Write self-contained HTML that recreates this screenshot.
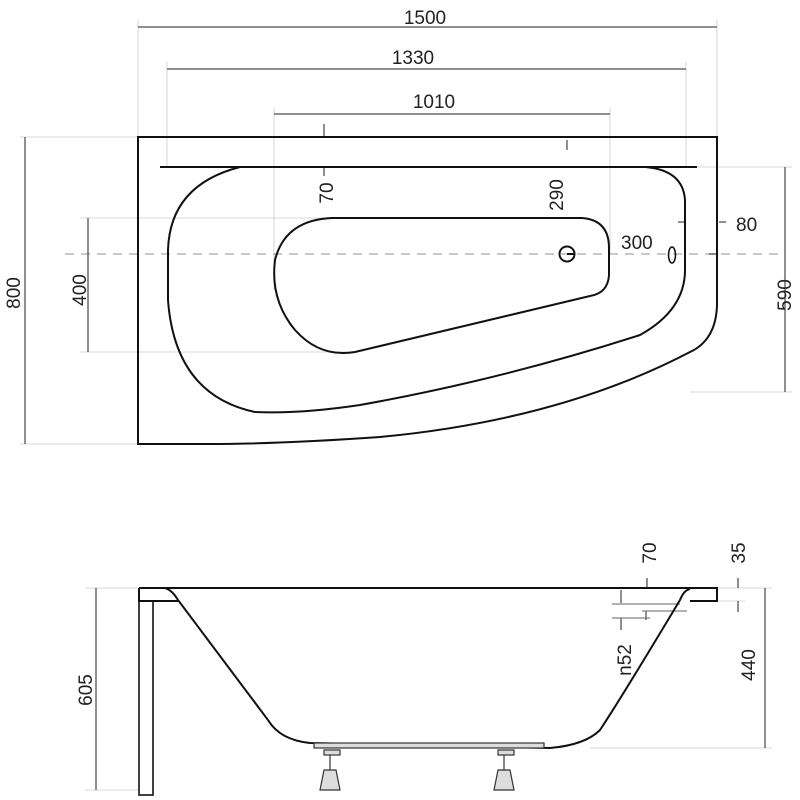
<!DOCTYPE html>
<html><head><style>body{margin:0;background:#fff}svg{display:block}text{font-family:"Liberation Sans",sans-serif;fill:#222}</style></head><body>
<svg width="800" height="800" viewBox="0 0 800 800" xmlns="http://www.w3.org/2000/svg">
<g stroke="#ccc" stroke-width="0.8" fill="none">
<line x1="138" y1="20" x2="138" y2="137"/><line x1="717" y1="20" x2="717" y2="137"/>
<line x1="167" y1="62" x2="167" y2="167"/><line x1="686" y1="62" x2="686" y2="167"/>
<line x1="274" y1="108" x2="274" y2="290"/><line x1="610" y1="108" x2="610" y2="254"/>
<line x1="20" y1="137" x2="138" y2="137"/><line x1="20" y1="444" x2="138" y2="444"/>
<line x1="80" y1="218" x2="330" y2="218"/><line x1="80" y1="352" x2="350" y2="352"/>
<line x1="697" y1="167" x2="792" y2="167"/><line x1="690" y1="392" x2="792" y2="392"/>
<line x1="85" y1="588" x2="138" y2="588"/><line x1="85" y1="790" x2="138" y2="790"/>
<line x1="717" y1="588" x2="772" y2="588"/><line x1="590" y1="748" x2="772" y2="748"/>
<line x1="717" y1="601" x2="745" y2="601"/>
</g>
<line x1="65" y1="254" x2="785" y2="254" stroke="#aaa" stroke-width="1.2" stroke-dasharray="9,7"/>
<g stroke="#222" stroke-width="1" fill="none">
<line x1="138" y1="27" x2="717" y2="27"/><line x1="167" y1="69" x2="686" y2="69"/><line x1="274" y1="114" x2="610" y2="114"/>
<line x1="25" y1="137" x2="25" y2="444"/><line x1="88" y1="218" x2="88" y2="352"/><line x1="785" y1="167" x2="785" y2="392"/>
<line x1="96" y1="588" x2="96" y2="790"/><line x1="765" y1="588" x2="765" y2="748"/>
<line x1="324" y1="124" x2="324" y2="137"/><line x1="324" y1="167" x2="324" y2="176"/>
<line x1="567" y1="140" x2="567" y2="150"/>
<line x1="678" y1="222" x2="684" y2="222"/><line x1="719" y1="222" x2="726" y2="222"/><line x1="709" y1="254" x2="716" y2="254"/>
<line x1="647" y1="578" x2="647" y2="588"/><line x1="738" y1="578" x2="738" y2="588"/><line x1="738" y1="601" x2="738" y2="612"/>
<line x1="621" y1="590" x2="621" y2="603"/><line x1="621" y1="618" x2="621" y2="630"/><line x1="646" y1="611" x2="646" y2="620"/>
<line x1="612" y1="604" x2="680" y2="604" stroke="#666"/><line x1="642" y1="611" x2="687" y2="611" stroke="#666"/><line x1="612" y1="618" x2="650" y2="618" stroke="#666"/>
</g>
<g stroke="#111" stroke-width="2" fill="none">
<path d="M138 137 H717 V305 Q716 340 690 352 Q560 420 380 437 Q280 444 208 444 H138 Z"/>
<line x1="160" y1="167" x2="697" y2="167"/>
<path d="M240 167 Q170 185 168 250 L168 300 Q175 395 255 412 Q300 414 360 405 Q500 380 640 335 Q685 310 685 270 L685 200 Q683 170 645 167"/>
<path d="M332 218 H582 Q609 220 609 248 V275 Q608 293 590 296 L355 352 Q320 358 295 330 Q270 300 275 260 Q285 220 332 218 Z"/>
<circle cx="567" cy="254" r="7.5"/>
<line x1="567" y1="254" x2="575" y2="254"/>
<ellipse cx="672" cy="255" rx="3.5" ry="8" stroke-width="1.6"/>
<path d="M139 588 H717 V601 H690"/>
<rect x="139" y="601" width="14" height="194" stroke-width="1.6"/>
<path d="M139 588 V601 H178"/>
<path d="M165 588 Q172 590 178 600 L268 720 Q280 740 310 743 L550 748 Q585 745 600 730 Q620 700 680 600 Q684 590 690 589"/>
</g>
<g stroke="#333" stroke-width="1.2" fill="#ddd">
<rect x="314" y="743" width="230" height="5"/>
<rect x="324" y="750" width="16" height="5"/><rect x="498" y="750" width="16" height="5"/>
<path d="M324 770 L336 770 L340 790 L320 790 Z"/><path d="M498 770 L510 770 L514 790 L494 790 Z"/>
<line x1="330" y1="755" x2="330" y2="770"/><line x1="504" y1="755" x2="504" y2="770"/>
</g>
<g font-size="19">
<text x="425" y="24" text-anchor="middle">1500</text><text x="413" y="64" text-anchor="middle">1330</text><text x="434" y="108" text-anchor="middle">1010</text>
<text x="621" y="249">300</text><text x="736" y="231">80</text>
<text transform="translate(20,293) rotate(-90)" text-anchor="middle">800</text>
<text transform="translate(86,290) rotate(-90)" text-anchor="middle">400</text>
<text transform="translate(791,295) rotate(-90)" text-anchor="middle">590</text>
<text transform="translate(333,193) rotate(-90)" text-anchor="middle">70</text>
<text transform="translate(563,195) rotate(-90)" text-anchor="middle">290</text>
<text transform="translate(92,690) rotate(-90)" text-anchor="middle">605</text>
<text transform="translate(755,665) rotate(-90)" text-anchor="middle">440</text>
<text transform="translate(656,553) rotate(-90)" text-anchor="middle">70</text>
<text transform="translate(745,553) rotate(-90)" text-anchor="middle">35</text>
<text transform="translate(631,660) rotate(-90)" text-anchor="middle">n52</text>
</g>
</svg>
</body></html>
